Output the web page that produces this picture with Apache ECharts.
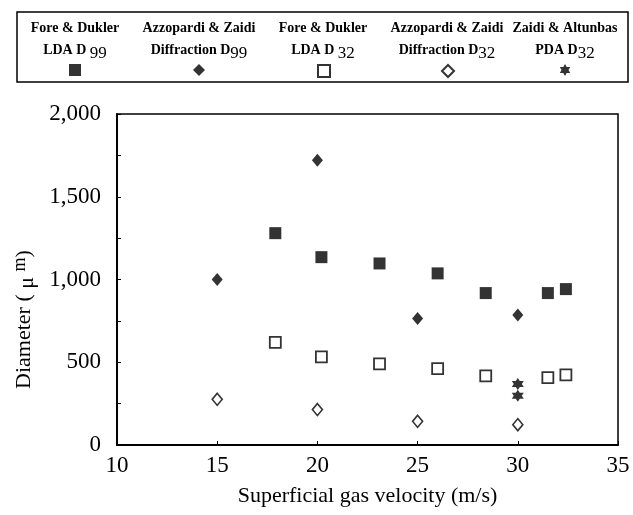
<!DOCTYPE html>
<html><head><meta charset="utf-8">
<script src="https://cdn.jsdelivr.net/npm/echarts@6/dist/echarts.min.js"></script>
<style>html,body{margin:0;padding:0;background:#fff}#c{width:633px;height:515px}</style>
</head><body><div id="c"></div>
<script>
const velLDA = [17.9, 20.2, 23.1, 26.0, 28.4, 31.5, 32.4];
const ldaD99 = [1280, 1135, 1097, 1037, 918, 918, 942];
const ldaD32 = [620, 532, 490, 462, 418, 407, 424];
const velDiff = [15, 20, 25, 30];
const diffD99 = [1000, 1720, 765, 785];
const diffD32 = [276, 214, 143, 123];
const velPDA = [30, 30];
const pdaD32 = [369, 298];
const legendLine1 = ['Fore & Dukler', 'Azzopardi & Zaidi', 'Fore & Dukler', 'Azzopardi & Zaidi', 'Zaidi & Altunbas'];
const legendLine2 = ['LDA D ', 'Diffraction D', 'LDA D ', 'Diffraction D', 'PDA D'];
const legendSub = ['99', '99', '32', '32', '32'];
const seriesNames = ['Fore & Dukler LDA D99', 'Azzopardi & Zaidi Diffraction D99', 'Fore & Dukler LDA D32', 'Azzopardi & Zaidi Diffraction D32', 'Zaidi & Altunbas PDA D32'];
const xTicks = [10, 15, 20, 25, 30, 35];
const yTicks = [0, 500, 1000, 1500, 2000];

const FONT = '"Liberation Serif", "Times New Roman", serif';
const star = 'path://M0,-10 L2.9,-5 L8.66,-5 L5.8,0 L8.66,5 L2.9,5 L0,10 L-2.9,5 L-8.66,5 L-5.8,0 L-8.66,-5 L-2.9,-5 Z';
const colCenters = [75, 199, 323, 447, 565];

function pairs(xs, ys){ return xs.map((x,i)=>[x, ys[i]]); }

const chart = echarts.init(document.getElementById('c'), null, {renderer:'canvas'});

const graphics = [{
  type:'rect', shape:{x:17, y:12, width:611, height:70},
  style:{fill:'none', stroke:'#000', lineWidth:1.5}, silent:true
}];
colCenters.forEach((cx,i)=>{
  graphics.push({
    type:'text', x:cx, y:18, silent:true,
    style:{
      text:'{a|' + legendLine1[i] + '}\n{b|' + legendLine2[i] + '}{s|' + legendSub[i] + '}',
      align:'center', verticalAlign:'top',
      rich:{
        a:{fontFamily:FONT, fontWeight:'bold', fontSize:14, lineHeight:20, fill:'#000', align:'center'},
        b:{fontFamily:FONT, fontWeight:'bold', fontSize:14, lineHeight:20, fill:'#000'},
        s:{fontFamily:FONT, fontSize:17, fill:'#000', padding:[7,0,0,0]}
      }
    }
  });
});

const legends = seriesNames.map((n,i)=>({
  data:[n], left: colCenters[i]-6, top: 64, itemWidth: 12, itemHeight: 12,
  formatter: function(){ return ''; }, selectedMode:false, padding:0, itemGap:0
}));

const option = {
  backgroundColor:'#fff',
  animation:false,
  graphic: graphics,
  legend: legends,
  grid:{left:117, right:15, top:114, bottom:70, show:true, borderColor:'#000', borderWidth:1.5},
  xAxis:{
    type:'value', min:xTicks[0], max:xTicks[xTicks.length-1], interval:5,
    name:'Superficial gas velocity (m/s)', nameLocation:'middle', nameGap:40,
    nameTextStyle:{fontFamily:FONT, fontSize:22, color:'#000'},
    axisLine:{show:true, lineStyle:{color:'#000', width:2}},
    axisTick:{show:true, inside:true, length:4, lineStyle:{color:'#000'}},
    splitLine:{show:false},
    axisLabel:{fontFamily:FONT, fontSize:23, color:'#000', margin:9}
  },
  yAxis:{
    type:'value', min:yTicks[0], max:yTicks[yTicks.length-1], interval:500,
    name:'Diameter ( {g|μ} {m|m})', nameLocation:'middle', nameGap:78,
    nameTextStyle:{fontFamily:FONT, fontSize:22, color:'#000', padding:[0,80,0,0],
      rich:{g:{fontFamily:FONT, fontSize:22, color:'#000', padding:[0,0,-6,0]}, m:{fontFamily:FONT, fontSize:18, color:'#000', padding:[0,0,9,0]}}},
    axisLine:{show:true, lineStyle:{color:'#000', width:2}},
    axisTick:{show:true, inside:true, length:4, lineStyle:{color:'#000'}},
    minorTick:{show:true, splitNumber:2, length:4, lineStyle:{color:'#000'}},
    splitLine:{show:false},
    axisLabel:{fontFamily:FONT, fontSize:23, color:'#000', margin:16,
      formatter:function(v){ return v.toLocaleString('en-US'); }}
  },
  series:[
    {name:seriesNames[0], type:'scatter', data:pairs(velLDA, ldaD99), symbol:'rect', symbolSize:12,
      itemStyle:{color:'#000'}},
    {name:seriesNames[1], type:'scatter', data:pairs(velDiff, diffD99), symbol:'diamond', symbolSize:[11,13],
      itemStyle:{color:'#000'}},
    {name:seriesNames[2], type:'scatter', data:pairs(velLDA, ldaD32), symbol:'rect', symbolSize:11,
      itemStyle:{color:'#fff', borderColor:'#000', borderWidth:1.8}},
    {name:seriesNames[3], type:'scatter', data:pairs(velDiff, diffD32), symbol:'diamond', symbolSize:[10,12],
      itemStyle:{color:'#fff', borderColor:'#000', borderWidth:1.6}},
    {name:seriesNames[4], type:'scatter', data:pairs(velPDA, pdaD32), symbol:star, symbolSize:12,
      itemStyle:{color:'#000'}}
  ]
};
chart.setOption(option);
</script>
</body></html>
